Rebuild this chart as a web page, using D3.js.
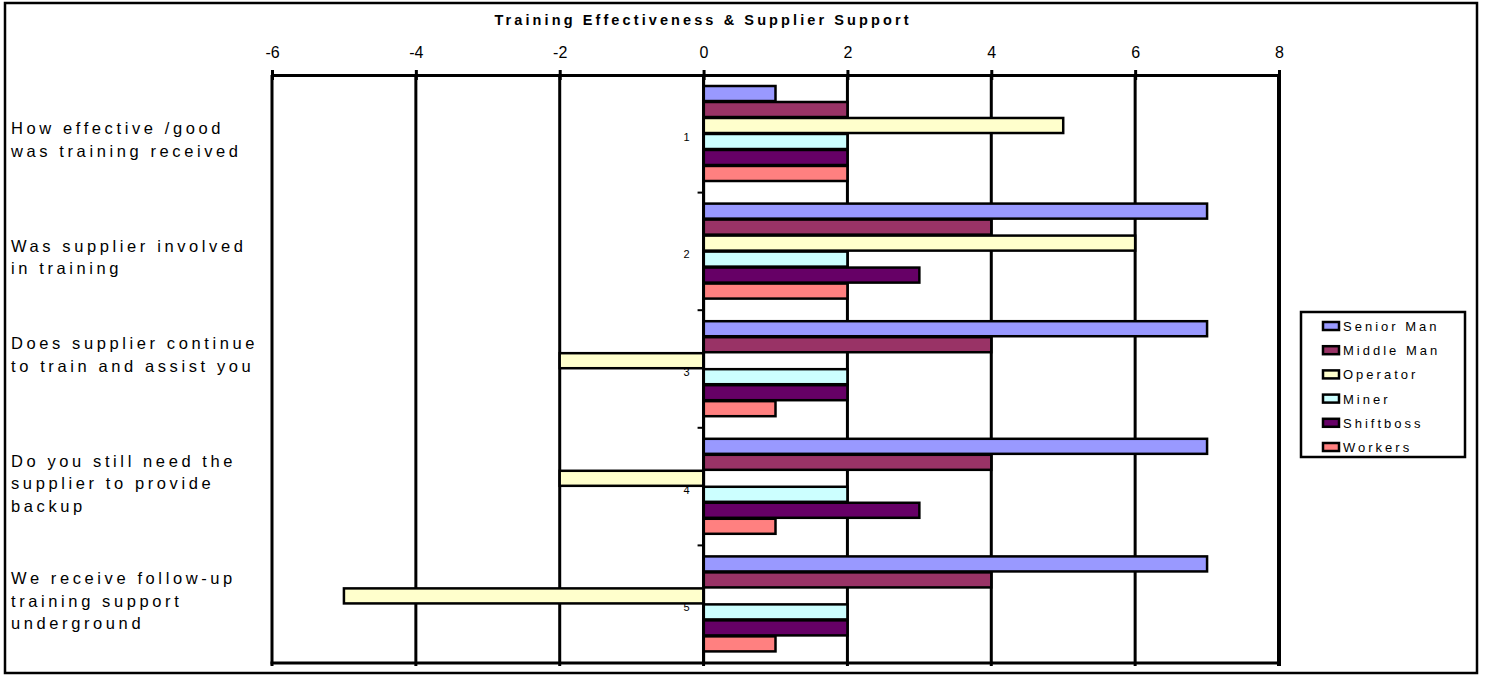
<!DOCTYPE html>
<html>
<head>
    <meta charset="utf-8">
    <title>Training Effectiveness & Supplier Support</title>
    <script src="https://d3js.org/d3.v7.min.js"></script>
    <style>
        html, body {
            margin: 0;
            background: white;
        }

        svg {
            display: block;
            font-family: Arial, "Liberation Sans", sans-serif;
        }
    </style>
</head>
<body>
    <svg id="svg"></svg>
    <script>
        // chart data
        const categories = ["1", "2", "3", "4", "5"];
        const questions = [
            ["How effective /good", "was training received"],
            ["Was supplier involved", "in training"],
            ["Does supplier continue", "to train and assist you"],
            ["Do you still need the", "supplier to provide", "backup"],
            ["We receive follow-up", "training support", "underground"]
        ];
        const seriesNames = ["Senior Man", "Middle Man", "Operator", "Miner", "Shiftboss", "Workers"];
        const seniorMan = [1, 7, 7, 7, 7];
        const middleMan = [2, 4, 4, 4, 4];
        const operator = [5, 6, -2, -2, -5];
        const miner = [2, 2, 2, 2, 2];
        const shiftboss = [2, 3, 2, 3, 2];
        const workers = [2, 2, 1, 1, 1];
        const xTicks = [-6, -4, -2, 0, 2, 4, 6, 8];
        const seriesColors = ["#9999FF", "#993366", "#FFFFCC", "#CCFFFF", "#660066", "#FF8080"];

        const seriesValues = [seniorMan, middleMan, operator, miner, shiftboss, workers];

        const width = 1488, height = 675;
        const plot = { left: 272, top: 75, right: 1279, bottom: 663 };

        const svg = d3.select("#svg")
            .attr("width", width)
            .attr("height", height);

        // outer chart frame
        svg.append("rect")
            .attr("x", 5)
            .attr("y", 3)
            .attr("width", 1472)
            .attr("height", 670)
            .attr("fill", "white")
            .attr("stroke", "black")
            .attr("stroke-width", 2.5);

        const x = d3.scaleLinear()
            .domain([xTicks[0], xTicks[xTicks.length - 1]])
            .range([plot.left, plot.right]);

        const y0 = d3.scaleBand()
            .domain(categories)
            .range([plot.top, plot.bottom]);

        const y1 = d3.scaleBand()
            .domain(seriesNames)
            .range([11, 106])
            .paddingInner(0.06);

        const color = d3.scaleOrdinal()
            .domain(seriesNames)
            .range(seriesColors);

        // title
        svg.append("text")
            .attr("x", 703)
            .attr("y", 25)
            .attr("text-anchor", "middle")
            .style("font-weight", "bold")
            .style("font-size", "14.5px")
            .style("letter-spacing", "3.1px")
            .text("Training Effectiveness & Supplier Support");

        // vertical gridlines
        svg.append("g")
            .selectAll("line")
            .data(xTicks)
            .enter()
            .append("line")
            .attr("x1", d => x(d))
            .attr("x2", d => x(d))
            .attr("y1", plot.top)
            .attr("y2", plot.bottom + 3)
            .attr("stroke", "black")
            .attr("stroke-width", d => d === xTicks[xTicks.length - 1] ? 4 : 3);

        // bottom frame line
        svg.append("line")
            .attr("x1", plot.left - 1.5)
            .attr("x2", plot.right + 2)
            .attr("y1", plot.bottom)
            .attr("y2", plot.bottom)
            .attr("stroke", "black")
            .attr("stroke-width", 3);

        // top value axis
        const xAxis = svg.append("g")
            .attr("transform", `translate(0, ${plot.top})`)
            .call(d3.axisTop(x)
                .tickValues(xTicks)
                .tickSizeInner(5)
                .tickSizeOuter(0)
                .tickPadding(12)
                .tickFormat(d3.format("d")));

        xAxis.select(".domain")
            .attr("stroke-width", 3);
        xAxis.selectAll(".tick line")
            .attr("y2", -5)
            .attr("y1", 5)
            .attr("stroke-width", 3);
        xAxis.selectAll(".tick text")
            .attr("fill", "black")
            .style("font-size", "16px")
            .style("font-family", "Arial, 'Liberation Sans', sans-serif")
            .text(d => d < 0 ? "-" + Math.abs(d) : d);

        // bars
        const groups = svg.append("g")
            .selectAll("g")
            .data(categories)
            .enter()
            .append("g")
            .attr("transform", d => `translate(0, ${y0(d)})`);

        groups.selectAll("rect")
            .data((c, i) => seriesNames.map((s, j) => ({ series: s, value: seriesValues[j][i] })))
            .enter()
            .append("rect")
            .attr("x", d => x(Math.min(0, d.value)))
            .attr("y", d => y1(d.series))
            .attr("width", d => Math.abs(x(d.value) - x(0)))
            .attr("height", y1.bandwidth())
            .attr("fill", d => color(d.series))
            .attr("stroke", "black")
            .attr("stroke-width", 2.5);

        // category axis along zero
        svg.append("line")
            .attr("x1", x(0))
            .attr("x2", x(0))
            .attr("y1", plot.top)
            .attr("y2", plot.bottom)
            .attr("stroke", "black")
            .attr("stroke-width", 3);

        const boundaries = categories.map(c => y0(c)).concat([plot.bottom]);
        svg.append("g")
            .selectAll("line")
            .data(boundaries)
            .enter()
            .append("line")
            .attr("x1", x(0) - 6)
            .attr("x2", x(0))
            .attr("y1", d => d)
            .attr("y2", d => d)
            .attr("stroke", "black")
            .attr("stroke-width", 2);

        svg.append("g")
            .selectAll("text")
            .data(categories)
            .enter()
            .append("text")
            .attr("x", x(0) - 14)
            .attr("y", d => y0(d) + y0.bandwidth() / 2 + 7)
            .attr("text-anchor", "end")
            .style("font-size", "11px")
            .text(d => d);

        // question labels on the left
        const labels = svg.append("g")
            .selectAll("text")
            .data(questions)
            .enter()
            .append("text")
            .attr("x", 11)
            .style("font-size", "16.5px")
            .style("letter-spacing", "3.6px");

        labels.each(function (lines, i) {
            const top = y0(categories[i]) + (i < 2 ? 59 : 39);
            d3.select(this)
                .selectAll("tspan")
                .data(lines)
                .enter()
                .append("tspan")
                .attr("x", 11)
                .attr("y", (d, k) => top + k * 22.5)
                .text(d => d);
        });

        // legend
        const legend = svg.append("g");
        legend.append("rect")
            .attr("x", 1301)
            .attr("y", 312)
            .attr("width", 164)
            .attr("height", 145)
            .attr("fill", "white")
            .attr("stroke", "black")
            .attr("stroke-width", 2.5);

        const items = legend.selectAll("g")
            .data(seriesNames)
            .enter()
            .append("g")
            .attr("transform", (d, i) => `translate(1323, ${326 + i * 24.2})`);

        items.append("rect")
            .attr("x", 0)
            .attr("y", -4)
            .attr("width", 16)
            .attr("height", 8)
            .attr("fill", d => color(d))
            .attr("stroke", "black")
            .attr("stroke-width", 2.5);

        items.append("text")
            .attr("x", 20)
            .attr("y", 5)
            .style("font-size", "13px")
            .style("letter-spacing", "3px")
            .text(d => d);
    </script>
</body>
</html>
